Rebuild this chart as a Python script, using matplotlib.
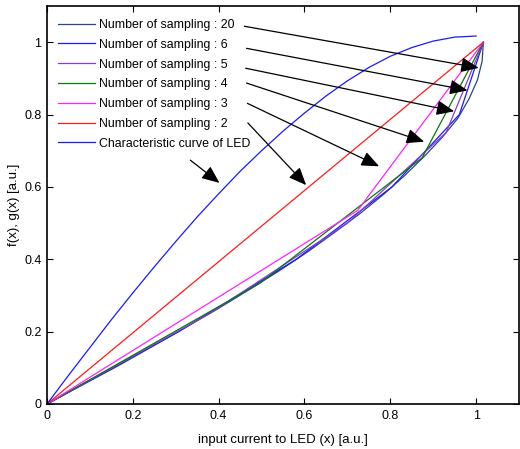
import matplotlib
matplotlib.use("Agg")
import matplotlib.pyplot as plt

plt.rcParams['font.family'] = ['Liberation Sans', 'DejaVu Sans']

# LED characteristic curve f(x)
led_x = [0.00, 0.05, 0.10, 0.15, 0.20, 0.25, 0.30, 0.35, 0.40, 0.45, 0.50,
         0.55, 0.60, 0.65, 0.70, 0.75, 0.80, 0.85, 0.90, 0.95, 1.00]
led_y = [0.000, 0.079, 0.156, 0.233, 0.307, 0.379, 0.449, 0.517, 0.581, 0.643, 0.700,
         0.754, 0.804, 0.851, 0.893, 0.930, 0.961, 0.985, 1.003, 1.014, 1.017]

# sampled inverse curves g(x)
s20_x = [0, 0.083, 0.165, 0.244, 0.322, 0.398, 0.471, 0.541, 0.608, 0.670,
         0.729, 0.784, 0.834, 0.879, 0.921, 0.957, 0.983, 1.003, 1.014, 1.017]
s20_y = [0, 0.053, 0.105, 0.158, 0.211, 0.263, 0.316, 0.368, 0.421, 0.474,
         0.526, 0.579, 0.632, 0.684, 0.737, 0.789, 0.842, 0.895, 0.947, 1.000]
s6_x = [0, 0.307, 0.581, 0.804, 0.961, 1.017]
s6_y = [0, 0.2, 0.4, 0.6, 0.8, 1.0]
s5_x = [0, 0.379, 0.700, 0.930, 1.017]
s5_y = [0, 0.25, 0.5, 0.75, 1.0]
s4_x = [0, 0.495, 0.874, 1.017]
s4_y = [0, 0.333, 0.680, 1.0]
s3_x = [0, 0.724, 1.017]
s3_y = [0, 0.535, 1.0]
s2_x = [0, 1.017]
s2_y = [0, 1.0]

labels = ['Number of sampling : 20', 'Number of sampling : 6', 'Number of sampling : 5',
          'Number of sampling : 4', 'Number of sampling : 3', 'Number of sampling : 2',
          'Characteristic curve of LED']
colors = ['#2a4488', '#1a1aff', '#8a3ad8', '#087a08', '#ff22ff', '#ff1a1a', '#1a1aff']

# arrow annotations: (start, tip) in data coords
arrows = [((0.460, 1.044), (1.006, 0.929)),
          ((0.465, 0.983), (0.980, 0.867)),
          ((0.463, 0.928), (0.949, 0.809)),
          ((0.465, 0.887), (0.879, 0.725)),
          ((0.467, 0.831), (0.774, 0.657)),
          ((0.468, 0.777), (0.604, 0.605)),
          ((0.334, 0.674), (0.402, 0.611))]

fig = plt.figure(figsize=(5.2, 4.49), dpi=100)
ax = fig.add_axes([47/520, 45/449, 472/520, 398/449])

series = [(s20_x, s20_y), (s6_x, s6_y), (s5_x, s5_y), (s4_x, s4_y),
          (s3_x, s3_y), (s2_x, s2_y), (led_x, led_y)]
for (xs, ys), lab, c in zip(series, labels, colors):
    ax.plot(xs, ys, color=c, lw=0.9, label=lab)

for (s, t) in arrows:
    ax.annotate('', xy=t, xytext=s,
                arrowprops=dict(arrowstyle='-|>,head_length=0.9,head_width=0.38',
                                color='black', lw=0.9, shrinkA=0, shrinkB=0,
                                mutation_scale=12))

ax.set_xlim(0, 1.1)
ax.set_ylim(0, 1.1)
ax.set_xticks([0, 0.2, 0.4, 0.6, 0.8, 1])
ax.set_xticklabels(['0', '0.2', '0.4', '0.6', '0.8', '1'])
ax.set_yticks([0, 0.2, 0.4, 0.6, 0.8, 1])
ax.set_yticklabels(['0', '0.2', '0.4', '0.6', '0.8', '1'])
ax.tick_params(direction='in', length=4, width=0.8, top=True, right=True,
               labelsize=9, pad=4)
for sp in ax.spines.values():
    sp.set_linewidth(1.2)

ax.set_xlabel('input current to LED (x) [a.u.]', fontsize=9.5, labelpad=9)
ax.set_ylabel('f(x), g(x) [a.u.]', fontsize=9.5, labelpad=3)

ax.legend(loc='upper left', bbox_to_anchor=(11/472, 1 - 13/398), frameon=False,
          fontsize=8.9, handlelength=3.0, handletextpad=0.3, labelspacing=0.63,
          borderpad=0, borderaxespad=0)

fig.savefig('out.png', dpi=100)
